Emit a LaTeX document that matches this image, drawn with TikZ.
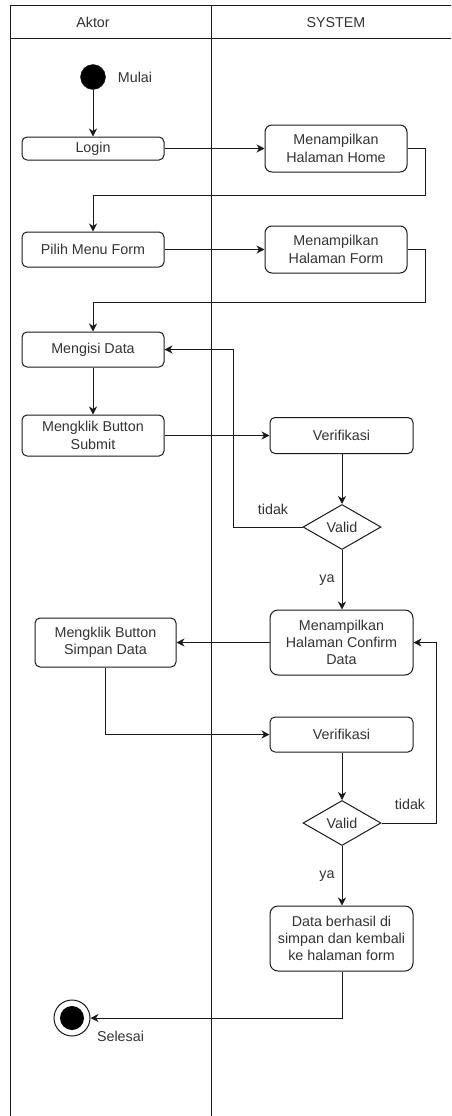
\documentclass[tikz,border=0pt]{standalone}
\usepackage{fontspec}
\setmainfont{Liberation Sans}
\usetikzlibrary{shapes.geometric,arrows.meta}

\definecolor{ink}{HTML}{1A1A1A}
\definecolor{txt}{HTML}{333333}

\tikzset{
  lane/.style={draw=ink, line width=1pt},
  actbox/.style={draw=ink, line width=1pt, rounded corners=5pt, align=center,
    inner sep=1pt, text=txt, font=\fontsize{14.3}{17.3}\selectfont},
  decision/.style={draw=ink, line width=1pt, diamond, aspect=1.7, inner sep=0pt,
    minimum width=78pt, minimum height=45pt, text=txt,
    font=\fontsize{14.3}{17.3}\selectfont},
  lbl/.style={text=txt, font=\fontsize{14.3}{17.3}\selectfont, inner sep=0pt},
  flow/.style={draw=ink, line width=1pt,
    -{Stealth[length=8pt, width=8pt, inset=2.5pt]}},
}

\begin{document}
\begin{tikzpicture}[x=1pt, y=-1pt]
\useasboundingbox (0,0) rectangle (451,1116);
\clip (0,0) rectangle (451,1116);

% swimlanes
\draw[lane] (10,1120) -- (10,6) -- (460,6);
\draw[lane] (10,39) -- (460,39);
\draw[lane] (211,6) -- (211,1120);
\node[lbl] (hAktor) at (93,22.5) {Aktor};
\node[lbl] (hSystem) at (336,22.5) {SYSTEM};

% start / end
\node[circle, fill=black, draw=ink, minimum size=25pt, inner sep=0pt] (start) at (93,77) {};
\node[lbl] (mulai) at (135,77) {Mulai};
\node[circle, draw=ink, line width=1pt, fill=white, minimum size=36pt, inner sep=0pt] (end) at (72,1018) {};
\node[circle, fill=black, minimum size=24pt, inner sep=0pt] (endDot) at (72,1018) {};
\node[lbl] (selesai) at (120.5,1036) {Selesai};

% actor activities
\node[actbox, minimum width=142pt, minimum height=23pt] (login) at (93,148.5) {Login};
\node[actbox, minimum width=142pt, minimum height=35pt] (pilih) at (93,249.5) {Pilih Menu Form};
\node[actbox, minimum width=142pt, minimum height=35pt] (isi) at (93,349.5) {Mengisi Data};
\node[actbox, minimum width=142pt, minimum height=41pt] (submit) at (93,435.5) {Mengklik Button\\Submit};
\node[actbox, minimum width=141pt, minimum height=49pt] (simpan) at (105.5,642.5) {Mengklik Button\\Simpan Data};

% system activities
\node[actbox, minimum width=142pt, minimum height=47pt, rounded corners=7pt] (home) at (336,148.5) {Menampilkan\\Halaman Home};
\node[actbox, minimum width=142pt, minimum height=47pt, rounded corners=7pt] (form) at (336,249.5) {Menampilkan\\Halaman Form};
\node[actbox, minimum width=143pt, minimum height=36pt] (verif1) at (341.5,435.5) {Verifikasi};
\node[decision] (valid1) at (342,527) {Valid};
\node[actbox, minimum width=143pt, minimum height=65pt, rounded corners=8pt] (confirm) at (341.5,642.5) {Menampilkan\\Halaman Confirm\\Data};
\node[actbox, minimum width=143pt, minimum height=35pt] (verif2) at (341.5,734.5) {Verifikasi};
\node[decision] (valid2) at (342,823) {Valid};
\node[actbox, minimum width=143pt, minimum height=65pt, rounded corners=8pt] (data) at (341.5,938.5) {Data berhasil di\\simpan dan kembali\\ke halaman form};

% flow
\draw[flow] (start) -- (login);
\draw[flow] (login.east) -- (home.west);
\draw[flow] (home.east) -- (425,148.5) -- (425,195) -- (93,195) -- (pilih.north);
\draw[flow] (pilih.east) -- (form.west);
\draw[flow] (form.east) -- (425,249.5) -- (425,302) -- (93,302) -- (isi.north);
\draw[flow] (isi) -- (submit);
\draw[flow] (submit.east) -- (verif1.west);
\draw[flow] (verif1.south -| valid1.north) -- (valid1.north);
\draw[flow] (valid1.west) -- (233,527) -- (233,349.5) -- (isi.east);
\node[lbl] (tidak1) at (273,509) {tidak};
\draw[flow] (valid1.south) -- (valid1.south |- confirm.north);
\node[lbl] (ya1) at (327,580) {ya};
\draw[flow] (confirm.west) -- (simpan.east);
\draw[flow] (simpan.south) -- (105.5,734.5) -- (verif2.west);
\draw[flow] (verif2.south -| valid2.north) -- (valid2.north);
\draw[flow] (valid2.east) -- (436,823) -- (436,642.5) -- (confirm.east);
\node[lbl] (tidak2) at (410,804) {tidak};
\draw[flow] (valid2.south) -- (valid2.south |- data.north);
\node[lbl] (ya2) at (327,876) {ya};
\draw[flow] (data.south -| valid2.south) -- (342,1018) -- (end.east);
\end{tikzpicture}
\end{document}
